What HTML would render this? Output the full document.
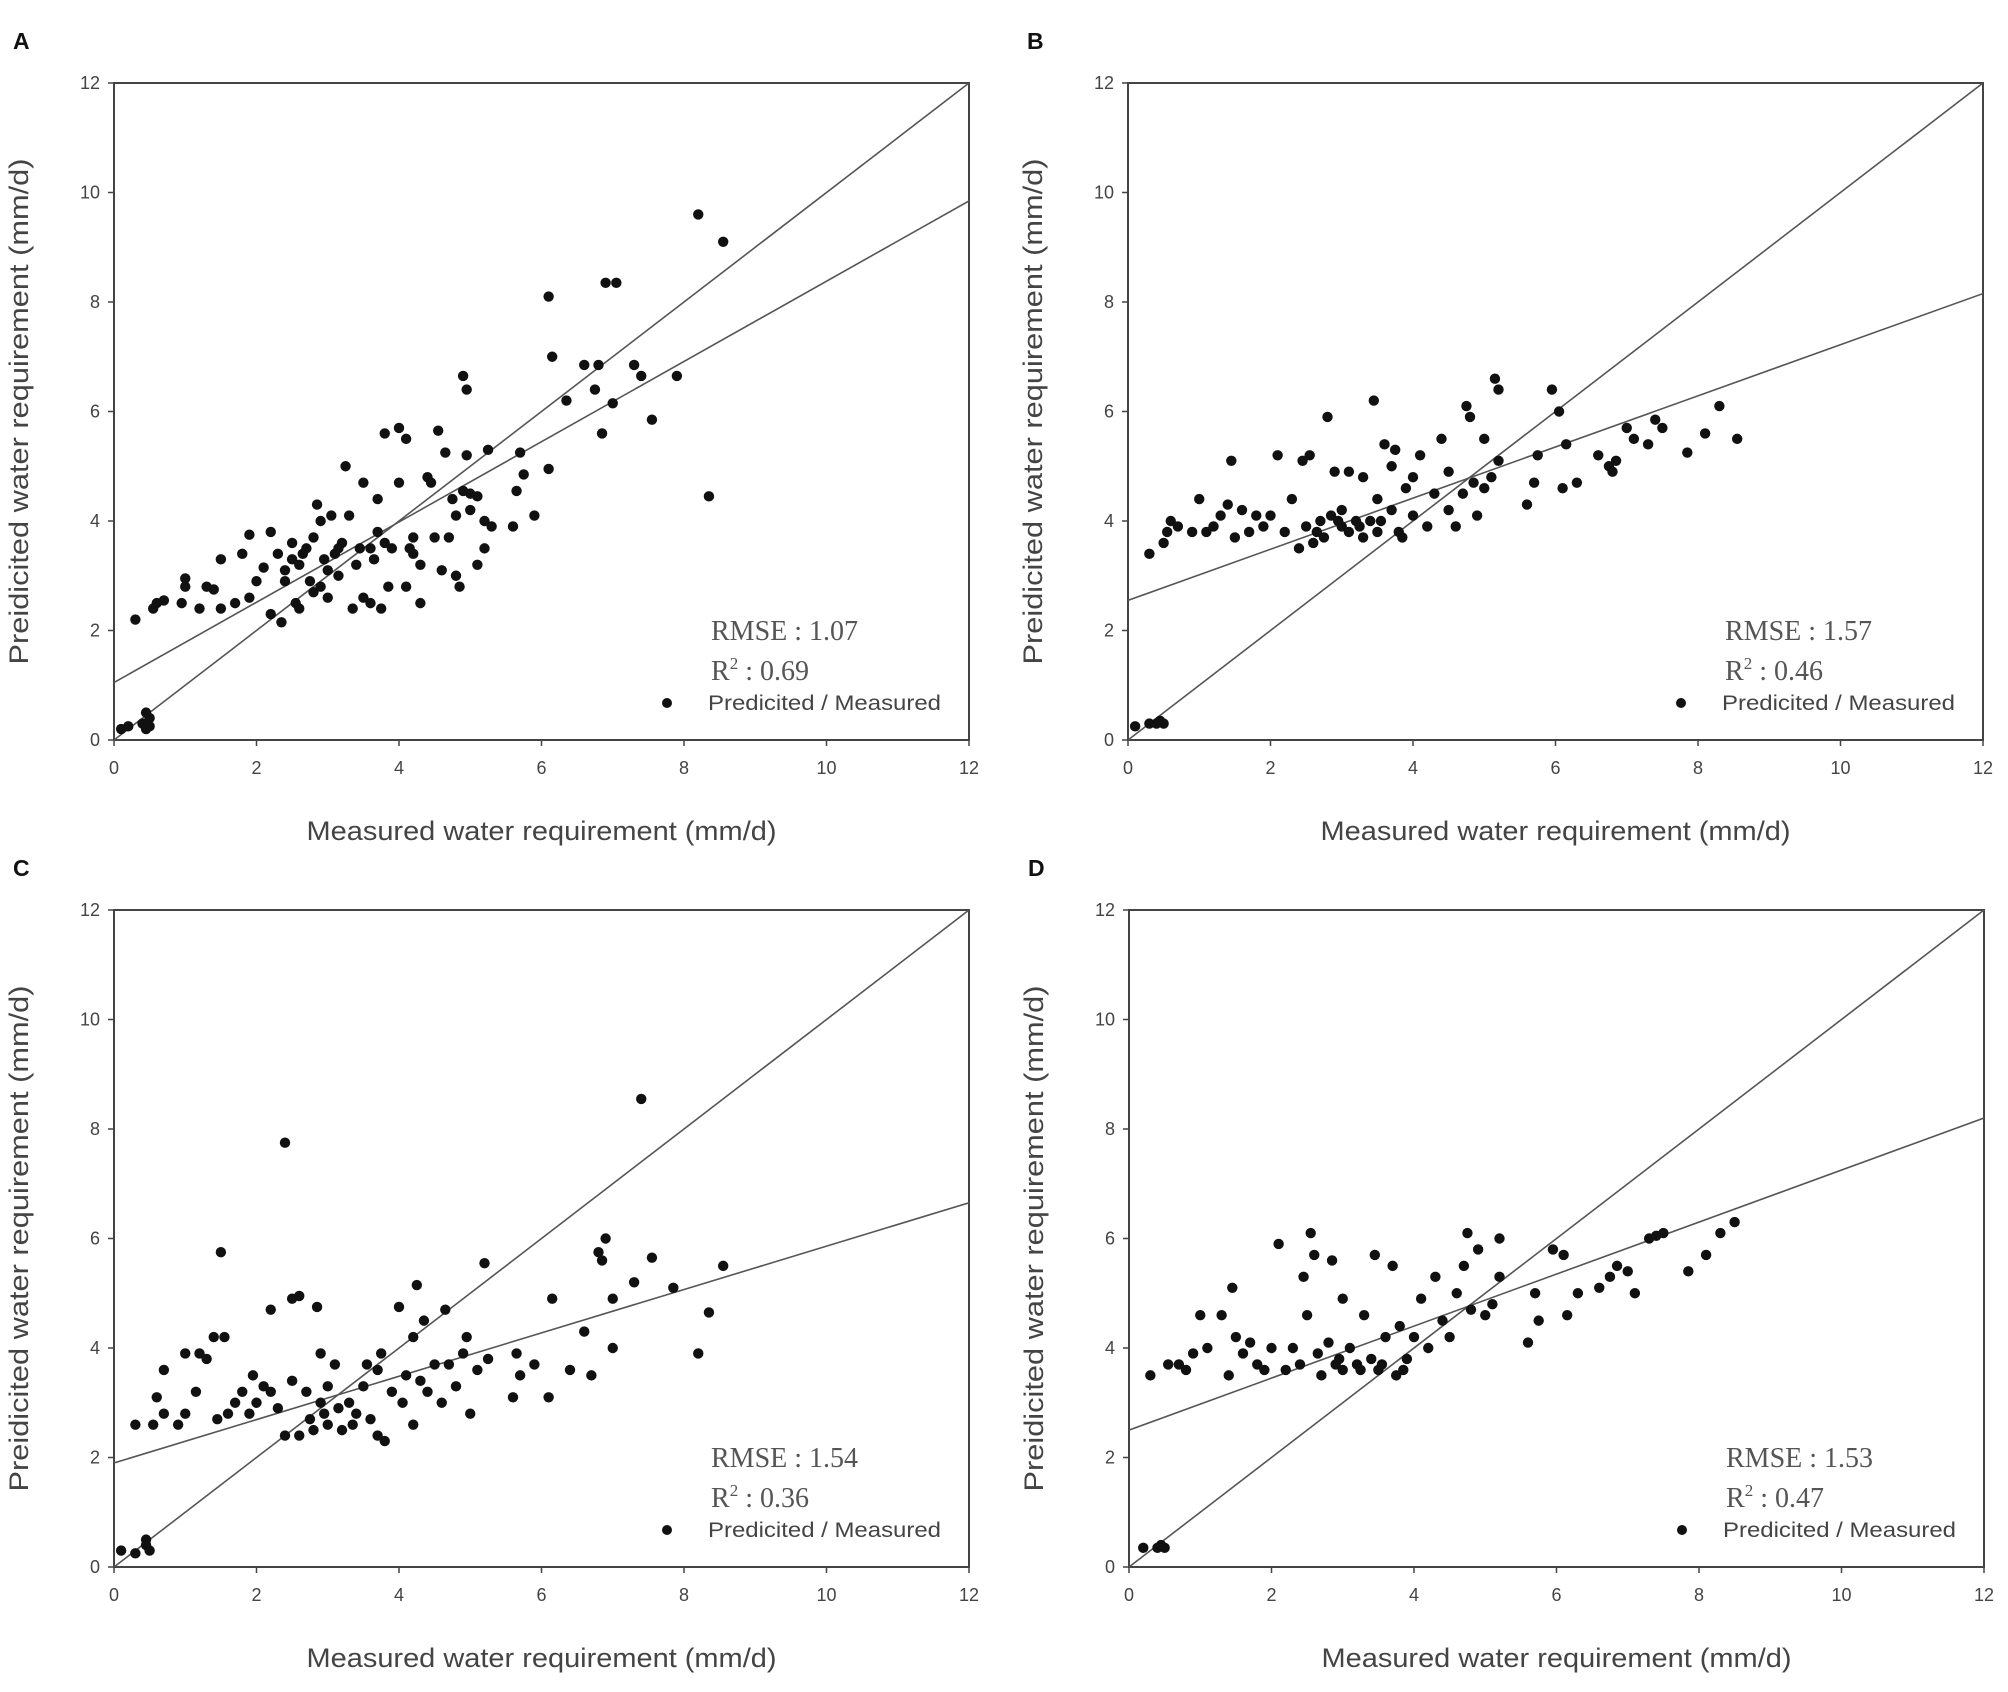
<!DOCTYPE html>
<html><head><meta charset="utf-8"><style>
body{margin:0;background:#fff;}
svg{display:block;font-family:"Liberation Sans",sans-serif;}
</style></head><body>
<svg id="fig" width="2008" height="1692" viewBox="0 0 2008 1692" xmlns="http://www.w3.org/2000/svg"></svg>
<script>
const ticks=[0,2,4,6,8,10,12];
const tickLabels=["0","2","4","6","8","10","12"];
const labels=["A","B","C","D"];
const rmse=["1.07","1.57","1.54","1.53"];
const r2=["0.69","0.46","0.36","0.47"];
const intercepts=[1.05,2.55,1.9,2.5];
const slopes=[0.733,0.467,0.396,0.475];
const pointsA=[[0.1,0.2],[0.2,0.25],[0.4,0.3],[0.45,0.2],[0.5,0.4],[0.45,0.5],[0.5,0.25],[0.3,2.2],[0.55,2.4],[0.6,2.5],[0.7,2.55],[0.95,2.5],[1.0,2.8],[1.0,2.95],[1.2,2.4],[1.3,2.8],[1.4,2.75],[1.5,3.3],[1.5,2.4],[1.7,2.5],[1.8,3.4],[1.9,3.75],[1.9,2.6],[2.0,2.9],[2.1,3.15],[2.2,3.8],[2.2,2.3],[2.3,3.4],[2.35,2.15],[2.4,2.9],[2.5,3.6],[2.5,3.3],[2.55,2.5],[2.6,3.2],[2.6,2.4],[2.7,3.5],[2.8,2.7],[2.8,3.7],[2.85,4.3],[2.9,4.0],[2.9,2.8],[3.0,3.1],[3.0,2.6],[3.05,4.1],[3.1,3.4],[3.15,3.0],[3.2,3.6],[3.25,5.0],[3.3,4.1],[3.35,2.4],[3.4,3.2],[3.5,4.7],[3.5,2.6],[3.6,2.5],[3.6,3.5],[3.7,4.4],[3.7,3.8],[3.75,2.4],[3.8,3.6],[3.8,5.6],[3.85,2.8],[3.9,3.5],[4.0,4.7],[4.0,5.7],[4.1,5.5],[4.1,2.8],[4.2,3.4],[4.2,3.7],[4.3,3.2],[4.3,2.5],[4.4,4.8],[4.45,4.7],[4.5,3.7],[4.55,5.65],[4.6,3.1],[4.65,5.25],[4.7,3.7],[4.75,4.4],[4.8,3.0],[4.8,4.1],[4.85,2.8],[4.9,4.55],[4.9,6.65],[4.95,6.4],[4.95,5.2],[5.0,4.2],[5.1,3.2],[5.1,4.45],[5.2,4.0],[5.2,3.5],[5.25,5.3],[5.3,3.9],[5.6,3.9],[5.65,4.55],[5.7,5.25],[5.75,4.85],[5.9,4.1],[6.1,4.95],[6.1,8.1],[6.15,7.0],[6.35,6.2],[6.6,6.85],[6.75,6.4],[6.8,6.85],[6.85,5.6],[6.9,8.35],[7.05,8.35],[7.0,6.15],[7.3,6.85],[7.4,6.65],[7.55,5.85],[7.9,6.65],[8.2,9.6],[8.35,4.45],[8.55,9.1],[2.65,3.4],[2.95,3.3],[3.45,3.5],[2.4,3.1],[3.15,3.5],[2.75,2.9],[4.15,3.5],[3.65,3.3],[5.0,4.5]];
const pointsB=[[0.1,0.25],[0.3,0.3],[0.4,0.3],[0.45,0.35],[0.5,0.3],[0.3,3.4],[0.5,3.6],[0.55,3.8],[0.6,4.0],[0.7,3.9],[0.9,3.8],[1.0,4.4],[1.1,3.8],[1.2,3.9],[1.3,4.1],[1.4,4.3],[1.45,5.1],[1.5,3.7],[1.6,4.2],[1.7,3.8],[1.8,4.1],[1.9,3.9],[2.0,4.1],[2.1,5.2],[2.2,3.8],[2.3,4.4],[2.4,3.5],[2.45,5.1],[2.5,3.9],[2.55,5.2],[2.6,3.6],[2.7,4.0],[2.75,3.7],[2.8,5.9],[2.85,4.1],[2.9,4.9],[3.0,3.9],[3.0,4.2],[3.1,3.8],[3.1,4.9],[3.2,4.0],[3.3,3.7],[3.3,4.8],[3.4,4.0],[3.45,6.2],[3.5,3.8],[3.5,4.4],[3.6,5.4],[3.7,4.2],[3.7,5.0],[3.75,5.3],[3.8,3.8],[3.9,4.6],[4.0,4.1],[4.0,4.8],[4.1,5.2],[4.2,3.9],[4.3,4.5],[4.4,5.5],[4.5,4.2],[4.5,4.9],[4.6,3.9],[4.7,4.5],[4.75,6.1],[4.8,5.9],[4.85,4.7],[4.9,4.1],[5.0,4.6],[5.0,5.5],[5.1,4.8],[5.15,6.6],[5.2,6.4],[5.2,5.1],[5.6,4.3],[5.7,4.7],[5.75,5.2],[5.95,6.4],[6.05,6.0],[6.1,4.6],[6.15,5.4],[6.3,4.7],[6.6,5.2],[6.75,5.0],[6.8,4.9],[6.85,5.1],[7.0,5.7],[7.1,5.5],[7.3,5.4],[7.4,5.85],[7.5,5.7],[7.85,5.25],[8.1,5.6],[8.3,6.1],[8.55,5.5],[2.95,4.0],[3.25,3.9],[3.55,4.0],[2.65,3.8],[3.85,3.7]];
const pointsC=[[0.1,0.3],[0.3,0.25],[0.45,0.4],[0.5,0.3],[0.45,0.5],[0.3,2.6],[0.55,2.6],[0.6,3.1],[0.7,2.8],[0.7,3.6],[0.9,2.6],[1.0,3.9],[1.0,2.8],[1.15,3.2],[1.2,3.9],[1.3,3.8],[1.4,4.2],[1.45,2.7],[1.5,5.75],[1.55,4.2],[1.6,2.8],[1.7,3.0],[1.8,3.2],[1.9,2.8],[1.95,3.5],[2.0,3.0],[2.1,3.3],[2.2,4.7],[2.2,3.2],[2.3,2.9],[2.4,7.75],[2.4,2.4],[2.5,3.4],[2.5,4.9],[2.6,4.95],[2.6,2.4],[2.7,3.2],[2.8,2.5],[2.85,4.75],[2.9,3.0],[2.9,3.9],[3.0,2.6],[3.0,3.3],[3.1,3.7],[3.2,2.5],[3.3,3.0],[3.4,2.8],[3.5,3.3],[3.55,3.7],[3.6,2.7],[3.7,3.6],[3.7,2.4],[3.75,3.9],[3.8,2.3],[3.9,3.2],[4.0,4.75],[4.05,3.0],[4.1,3.5],[4.2,2.6],[4.2,4.2],[4.25,5.15],[4.35,4.5],[4.4,3.2],[4.5,3.7],[4.6,3.0],[4.65,4.7],[4.7,3.7],[4.8,3.3],[4.9,3.9],[4.95,4.2],[5.0,2.8],[5.1,3.6],[5.2,5.55],[5.25,3.8],[5.6,3.1],[5.65,3.9],[5.7,3.5],[5.9,3.7],[6.1,3.1],[6.15,4.9],[6.4,3.6],[6.6,4.3],[6.7,3.5],[6.8,5.75],[6.85,5.6],[6.9,6.0],[7.0,4.0],[7.0,4.9],[7.3,5.2],[7.4,8.55],[7.55,5.65],[7.85,5.1],[8.2,3.9],[8.35,4.65],[8.55,5.5],[2.95,2.8],[3.15,2.9],[3.35,2.6],[2.75,2.7],[4.3,3.4]];
const pointsD=[[0.2,0.35],[0.4,0.35],[0.45,0.4],[0.5,0.35],[0.3,3.5],[0.55,3.7],[0.7,3.7],[0.8,3.6],[0.9,3.9],[1.0,4.6],[1.1,4.0],[1.3,4.6],[1.4,3.5],[1.45,5.1],[1.5,4.2],[1.6,3.9],[1.7,4.1],[1.8,3.7],[1.9,3.6],[2.0,4.0],[2.1,5.9],[2.2,3.6],[2.3,4.0],[2.4,3.7],[2.45,5.3],[2.5,4.6],[2.55,6.1],[2.6,5.7],[2.7,3.5],[2.8,4.1],[2.85,5.6],[2.9,3.7],[3.0,4.9],[3.0,3.6],[3.1,4.0],[3.2,3.7],[3.3,4.6],[3.4,3.8],[3.45,5.7],[3.5,3.6],[3.6,4.2],[3.7,5.5],[3.75,3.5],[3.8,4.4],[3.9,3.8],[4.0,4.2],[4.1,4.9],[4.2,4.0],[4.3,5.3],[4.4,4.5],[4.5,4.2],[4.6,5.0],[4.7,5.5],[4.75,6.1],[4.8,4.7],[4.9,5.8],[5.0,4.6],[5.1,4.8],[5.2,6.0],[5.2,5.3],[5.6,4.1],[5.7,5.0],[5.75,4.5],[5.95,5.8],[6.1,5.7],[6.15,4.6],[6.3,5.0],[6.6,5.1],[6.75,5.3],[6.85,5.5],[7.0,5.4],[7.1,5.0],[7.3,6.0],[7.4,6.05],[7.5,6.1],[7.85,5.4],[8.1,5.7],[8.3,6.1],[8.5,6.3],[2.95,3.8],[3.25,3.6],[3.55,3.7],[2.65,3.9],[3.85,3.6]];
const allPoints=[pointsA,pointsB,pointsC,pointsD];

const NS="http://www.w3.org/2000/svg";
const svg=document.getElementById('fig');
const frames=[[114,83],[1128,83],[114,910],[1129,910]];
const W=855,H=657;
function mk(tag,attrs,parent){const e=document.createElementNS(NS,tag);for(const k in attrs)e.setAttribute(k,attrs[k]);(parent||svg).appendChild(e);return e;}
frames.forEach((f,i)=>{
  const [L,T]=f;
  const sx=v=>L+v/12*W, sy=v=>T+H-v/12*H;
  const g=mk('g',{});
  
  
  const pl=mk('text',{x:L-101,y:T-34,'font-size':23,'font-weight':'bold',fill:'#111'},g);pl.textContent=labels[i];
  
  
  const fr=mk('rect',{x:L,y:T,width:W,height:H,fill:'none',stroke:'#444','stroke-width':2},g);
  
  
  ticks.forEach((t,j)=>{
    mk('line',{x1:sx(t),y1:T+H,x2:sx(t),y2:T+H+6,stroke:'#444','stroke-width':1.5},g);
    mk('line',{x1:L-6,y1:sy(t),x2:L,y2:sy(t),stroke:'#444','stroke-width':1.5},g);
    const xt=mk('text',{x:sx(t),y:T+H+34,'font-size':18,'text-anchor':'middle',fill:'#444'},g);xt.textContent=tickLabels[j];
    
    
    const yt=mk('text',{x:L-14,y:sy(t)+6,'font-size':18,'text-anchor':'end',fill:'#444'},g);yt.textContent=tickLabels[j];
    
    
  });
  const xtitle=mk('text',{x:L+W/2-235,y:T+H+100,'font-size':27,textLength:470,lengthAdjust:'spacingAndGlyphs',fill:'#444'},g);xtitle.textContent='Measured water requirement (mm/d)';
  
  
  const yx=L-86, yy=T+H/2;
  const ytitle=mk('text',{x:yx-253,y:yy,'font-size':27,textLength:506,lengthAdjust:'spacingAndGlyphs',fill:'#444',transform:`rotate(-90 ${yx} ${yy})`},g);ytitle.textContent='Preidicited water requirement (mm/d)';
  
  
  const cl=mk('clipPath',{id:'c'+i},g);mk('rect',{x:L,y:T,width:W,height:H},cl);
  const one=mk('line',{x1:sx(0),y1:sy(0),x2:sx(12),y2:sy(12),stroke:'#555','stroke-width':1.6,'clip-path':`url(#c${i})`},g);
  
  
  const reg=mk('line',{x1:sx(0),y1:sy(intercepts[i]),x2:sx(12),y2:sy(intercepts[i]+slopes[i]*12),stroke:'#555','stroke-width':1.6,'clip-path':`url(#c${i})`},g);
  
  
  allPoints[i].forEach(p=>{
    const c=mk('circle',{cx:sx(p[0]),cy:sy(p[1]),r:5.2,fill:'#111'},g);
    
    
  });
  const t1=mk('text',{x:L+597,y:T+557,'font-size':28,fill:'#555','font-family':'Liberation Serif, serif'},g);t1.textContent='RMSE : '+rmse[i];
  
  
  const t2=mk('text',{x:L+597,y:T+597,'font-size':28,fill:'#555','font-family':'Liberation Serif, serif'},g);
  t2.innerHTML='R<tspan font-size="17" dy="-11">2</tspan><tspan dy="11"> : '+r2[i]+'</tspan>';
  
  
  const ld=mk('circle',{cx:L+553,cy:T+620,r:5,fill:'#111'},g);
  
  
  const lt=mk('text',{x:L+594,y:T+627,'font-size':21,textLength:233,lengthAdjust:'spacingAndGlyphs',fill:'#444'},g);lt.textContent='Predicited / Measured';
  
  
});
</script>
</body></html>
